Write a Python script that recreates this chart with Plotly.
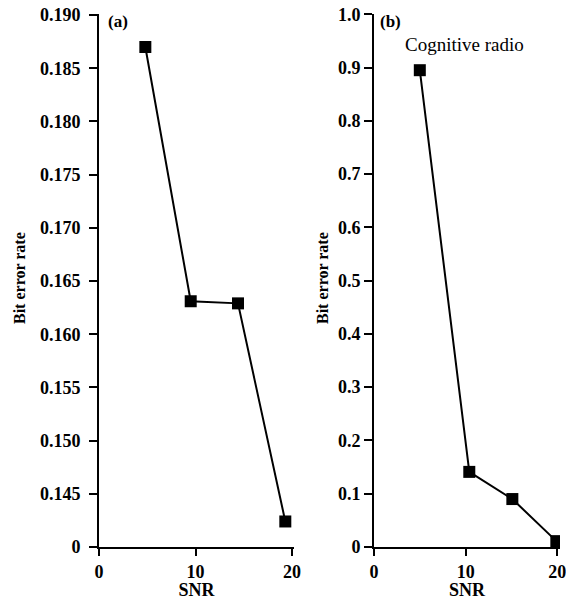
import plotly.graph_objects as go

# Panel (a)
snr_a = [4.8, 9.5, 14.4, 19.3]
ber_a = [0.187, 0.1631, 0.1629, 0.1424]
yticks_a = [0.140, 0.145, 0.150, 0.155, 0.160, 0.165, 0.170, 0.175, 0.180, 0.185, 0.190]
yticktext_a = ["0", "0.145", "0.150", "0.155", "0.160", "0.165", "0.170", "0.175", "0.180", "0.185", "0.190"]

# Panel (b)
snr_b = [5.0, 10.4, 15.1, 19.9]
ber_b = [0.895, 0.141, 0.090, 0.011]
yticks_b = [0, 0.1, 0.2, 0.3, 0.4, 0.5, 0.6, 0.7, 0.8, 0.9, 1.0]
yticktext_b = ["0", "0.1", "0.2", "0.3", "0.4", "0.5", "0.6", "0.7", "0.8", "0.9", "1.0"]

xticks = [0, 10, 20]

W, H = 566, 600
FONT = "Liberation Serif"


def px(xs):
    return xs / W


def py(ys):
    return 1 - ys / H


fig = go.Figure()
fig.add_trace(go.Scatter(x=snr_a, y=ber_a, mode="lines+markers",
                         line=dict(color="black", width=2),
                         marker=dict(symbol="square", size=12, color="black"),
                         xaxis="x", yaxis="y", showlegend=False))
fig.add_trace(go.Scatter(x=snr_b, y=ber_b, mode="lines+markers",
                         line=dict(color="black", width=2),
                         marker=dict(symbol="square", size=12, color="black"),
                         xaxis="x2", yaxis="y2", showlegend=False))

ydom = [py(547), py(14)]
axfont = dict(family=FONT, size=18, color="black", weight="bold")
common_x = dict(showline=True, linecolor="black", linewidth=2, ticks="outside",
                ticklen=7, tickwidth=2, tickcolor="black", showgrid=False,
                zeroline=False, tickvals=xticks, tickfont=axfont, automargin=False,
                ticklabeloverflow="allow",
                title=dict(text="SNR", font=dict(family=FONT, size=18, color="black", weight="bold"), standoff=0))
common_y = dict(showline=True, linecolor="black", linewidth=2, ticks="outside",
                ticklen=8, tickwidth=2, tickcolor="black", showgrid=False,
                zeroline=False, tickfont=axfont, domain=ydom, automargin=False,
                ticklabeloverflow="allow")

fig.update_layout(
    template="none",
    width=W, height=H,
    margin=dict(l=0, r=0, t=0, b=0),
    paper_bgcolor="white", plot_bgcolor="white",
    xaxis=dict(domain=[px(99), px(294)], range=[0, 20.2], anchor="y", **common_x),
    yaxis=dict(range=[0.140, 0.1901], tickvals=yticks_a, ticktext=yticktext_a, anchor="x",
               ticklabelstandoff=5, **common_y),
    xaxis2=dict(domain=[px(374), px(560)], range=[0, 20.3], anchor="y2", **common_x),
    yaxis2=dict(range=[0, 1.0005], tickvals=yticks_b, ticktext=yticktext_b, anchor="x2",
                **common_y),
)

ann_font_b = dict(family=FONT, size=17, color="black", weight="bold")
fig.add_annotation(text="(a)", x=px(106), y=py(22), xref="paper", yref="paper",
                   xanchor="left", yanchor="middle", showarrow=False, font=ann_font_b)
fig.add_annotation(text="(b)", x=px(378), y=py(22), xref="paper", yref="paper",
                   xanchor="left", yanchor="middle", showarrow=False, font=ann_font_b)
fig.add_annotation(text="Cognitive radio", x=px(403), y=py(44), xref="paper", yref="paper",
                   xanchor="left", yanchor="middle", showarrow=False,
                   font=dict(family=FONT, size=19, color="black"))
fig.add_annotation(text="Bit error rate", x=px(19), y=py(278), xref="paper", yref="paper",
                   xanchor="center", yanchor="middle", showarrow=False, textangle=-90,
                   font=dict(family=FONT, size=16, color="black", weight="bold"))
fig.add_annotation(text="Bit error rate", x=px(322), y=py(278), xref="paper", yref="paper",
                   xanchor="center", yanchor="middle", showarrow=False, textangle=-90,
                   font=dict(family=FONT, size=16, color="black", weight="bold"))

fig.write_html("out.html",
               config={"displayModeBar": False},
               post_script="document.body.style.margin='0';document.body.style.overflow='hidden';")
